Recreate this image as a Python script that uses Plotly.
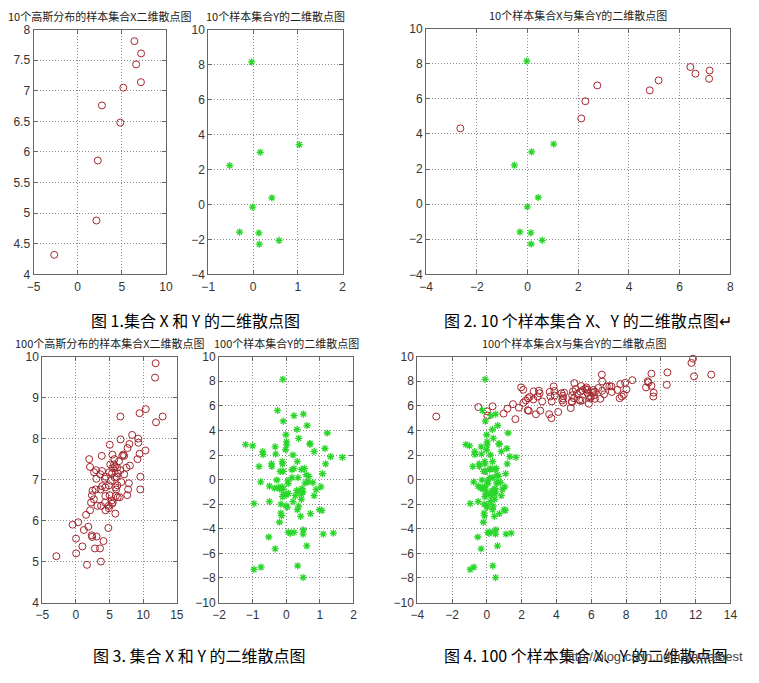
import plotly.graph_objects as go

# ---------- 10-sample data ----------
x10_a = [-2.65, 2.12, 2.28, 2.75, 4.82, 5.17, 6.42, 6.62, 7.18, 7.16]
x10_b = [4.32, 4.88, 5.86, 6.76, 6.48, 7.05, 7.81, 7.43, 7.61, 7.14]
y10_a = [-0.03, 0.16, 1.03, -0.52, 0.42, -0.01, -0.30, 0.13, 0.14, 0.58]
y10_b = [8.15, 2.98, 3.42, 2.22, 0.38, -0.15, -1.58, -1.63, -2.27, -2.06]

# ---------- 100-sample data ----------
x100_a = [-2.91, -0.49, 0.01, 0.03, 0.33, 0.96, 1.18, 1.50, 1.64, 1.84,
          1.97, 2.09, 2.10, 2.24, 2.35, 2.41, 2.37, 2.46, 2.69, 2.67,
          2.82, 2.92, 2.99, 3.03, 3.07, 3.18, 3.58, 3.61, 3.65, 3.71,
          3.73, 3.84, 3.88, 3.90, 4.10, 4.29, 4.37, 4.33, 4.39, 4.44,
          4.37, 4.82, 4.88, 4.90, 4.95, 5.01, 5.03, 5.10, 5.18, 5.31,
          5.37, 5.42, 5.48, 5.37, 5.65, 5.72, 5.78, 5.86, 5.86, 5.93,
          5.99, 6.06, 6.12, 6.21, 6.16, 6.21, 6.40, 6.52, 6.61, 6.63,
          6.63, 6.74, 6.89, 7.04, 7.16, 7.18, 7.50, 7.67, 7.63, 7.76,
          7.87, 7.95, 8.02, 8.36, 9.15, 9.25, 9.29, 9.46, 9.46, 9.57,
          9.59, 10.38, 10.34, 11.76, 11.85, 11.91, 12.90, 5.50, 5.80, 4.90]
x100_b = [5.13, 5.90, 5.56, 5.20, 5.96, 5.37, 5.77, 6.14, 4.92, 5.85,
          7.50, 7.31, 6.25, 6.44, 5.64, 5.60, 6.62, 6.73, 7.18, 6.52,
          5.32, 6.76, 7.23, 7.02, 5.61, 6.36, 5.32, 7.13, 6.76, 5.00,
          6.36, 7.58, 7.21, 6.84, 5.50, 7.02, 6.81, 6.44, 6.25, 7.07,
          6.60, 5.82, 6.36, 6.86, 7.18, 6.62, 7.85, 7.37, 6.97, 6.49,
          7.15, 7.61, 6.44, 6.41, 7.37, 7.50, 7.05, 6.17, 6.81, 6.60,
          6.76, 7.07, 7.29, 6.57, 6.86, 7.15, 7.45, 6.57, 8.54, 7.98,
          7.23, 6.94, 7.58, 7.61, 7.58, 7.13, 7.29, 7.77, 6.62, 6.76,
          6.91, 7.87, 7.34, 8.09, 7.50, 8.00, 7.90, 8.62, 7.63, 6.76,
          7.07, 8.72, 7.71, 9.49, 9.84, 8.40, 8.54, 7.28, 7.32, 6.30]
y100_a = [-0.10, -0.26, -0.09, 0.23, 0.51, 0.62, 0.32, 0.37, -0.01, 1.22,
          -1.21, -1.00, -0.70, -0.69, -0.33, -0.31, 0.01, 0.01, -0.02, 0.20,
          0.71, 0.70, 0.83, 1.15, 1.32, 1.67, 1.17, -0.81, -0.44, -0.43,
          -0.11, -0.12, 0.33, -0.18, -0.09, 0.17, 0.23, 0.54, 0.45, 1.08,
          0.17, 0.35, 0.67, 0.59, -0.76, -0.28, -0.23, -0.50, -0.12, -0.09,
          -0.20, 0.06, 0.31, 0.37, 0.47, 0.50, 0.56, 0.64, 0.89, 1.03,
          0.79, 0.06, -0.01, -0.11, -0.09, 0.27, 0.45, 0.83, 0.45, 0.20,
          -0.50, -0.96, -0.16, -0.01, 0.03, 0.37, 0.33, 0.99, 1.06, 0.72,
          -0.16, -0.14, 0.43, -0.20, 0.51, 0.06, 0.12, 0.23, 0.50, 1.10,
          1.40, -0.52, -0.33, 0.61, -0.96, -0.75, 0.34, 0.50, 0.05, -0.35]
y100_b = [8.16, 5.63, 4.75, 5.20, 5.33, 4.40, 4.08, 3.36, 3.65, 3.79,
          2.85, 2.75, 2.27, 2.05, 2.67, 2.08, 3.07, 2.83, 2.43, 2.00,
          2.93, 2.88, 2.29, 2.53, 1.87, 1.81, 1.28, 1.07, 1.28, 1.07,
          1.28, 1.47, 1.47, 0.67, 0.67, 0.80, 0.91, 0.91, 0.83, 0.48,
          0.16, 0.16, 0.27, 0.40, -0.19, -0.03, -0.64, -0.53, -0.59, -0.77,
          -0.75, -0.32, -0.88, -0.93, -0.72, -0.99, -0.27, -0.19, -0.80, -0.59,
          -0.24, -1.12, -1.25, -1.39, -1.20, -1.31, -1.20, -1.31, -1.60, -1.79,
          -1.79, -1.95, -2.00, -2.13, -2.24, -2.16, -2.45, -2.45, -2.51, -2.77,
          -2.72, -2.93, -2.99, -3.47, -4.08, -4.29, -4.37, -4.29, -4.43, -4.43,
          -4.35, -4.67, -5.63, -5.39, -7.31, -7.12, -7.01, -7.97, -0.10, -0.70]

titles = ["10个高斯分布的样本集合X二维散点图", "10个样本集合Y的二维散点图",
          "10个样本集合X与集合Y的二维散点图", "100个高斯分布的样本集合X二维散点图",
          "100个样本集合Y的二维散点图", "100个样本集合X与集合Y的二维散点图"]
captions = ["图 1.集合 X 和 Y 的二维散点图", "图 2. 10 个样本集合 X、Y 的二维散点图↵",
            "图 3. 集合 X 和 Y 的二维散点图", "图 4. 100 个样本集合 X、Y 的二维散点图"]

W, H = 759, 683
# axes boxes in pixels: (left, right, top, bottom)
boxes = [(27, 162, 23, 273), (205, 342, 23, 273), (427, 737, 22, 273),
         (36, 173, 357, 608), (216, 353, 357, 608), (418, 737, 357, 608)]
xranges = [(-5, 10), (-1, 2), (-4, 8), (-5, 15), (-2, 2), (-4, 14)]
yranges = [(4, 8), (-4, 10), (-4, 10), (4, 10), (-10, 10), (-10, 10)]
xdt = [5, 1, 2, 5, 1, 2]
ydt = [0.5, 2, 2, 1, 2, 2]

red = dict(symbol="circle-open", size=7, color="#a3262e", line=dict(width=1, color="#a3262e"))
green = dict(symbol="asterisk-open", size=6, color="#2bd62b", line=dict(width=1.3, color="#2bd62b"))

fig = go.Figure()
series = [
    [(x10_a, x10_b, red)],
    [(y10_a, y10_b, green)],
    [(x10_a, x10_b, red), (y10_a, y10_b, green)],
    [(x100_a, x100_b, red)],
    [(y100_a, y100_b, green)],
    [(x100_a, x100_b, red), (y100_a, y100_b, green)],
]

layout = {}
annotations = []
for i, (box, xr, yr) in enumerate(zip(boxes, xranges, yranges)):
    n = "" if i == 0 else str(i + 1)
    l, r, t, b = box
    axstyle = dict(showgrid=True, gridcolor="#8a8a8a", griddash="1px,2px", gridwidth=1,
                   showline=True, linecolor="#666", linewidth=1, mirror="ticks",
                   ticks="inside", ticklen=4, tickcolor="#666", zeroline=False,
                   tickfont=dict(family="Liberation Sans, Arial", size=12, color="#333"))
    layout["xaxis" + n] = dict(domain=[l / W, r / W], range=list(xr), dtick=xdt[i],
                               anchor="y" + n, ticklabelstandoff=1, **axstyle)
    layout["yaxis" + n] = dict(domain=[1 - b / H, 1 - t / H], range=list(yr), dtick=ydt[i],
                               anchor="x" + n, **axstyle)
    for xs, ys, mk in series[i]:
        fig.add_trace(go.Scatter(x=xs, y=ys, mode="markers", marker=mk,
                                 xaxis="x" + n, yaxis="y" + n, showlegend=False,
                                 cliponaxis=False))
    annotations.append(dict(text=titles[i], x=(l + r) / 2 / W, y=1 - (t - 4) / H,
                            xref="paper", yref="paper", xanchor="center", yanchor="bottom",
                            showarrow=False,
                            font=dict(family="Noto Sans CJK SC", size=11, color="#222")))

cap_pos = [(192, 320), (592, 320), (196, 662), (590, 662)]
for c, (cx, cy) in zip(captions, cap_pos):
    annotations.append(dict(text=c, x=cx / W, y=1 - cy / H, xref="paper", yref="paper",
                            xanchor="center", yanchor="middle", showarrow=False,
                            font=dict(family="Noto Sans CJK SC", size=16, color="#000")))
annotations.append(dict(text="http://blog.csdn.net/uyawaibest", x=752 / W, y=1 - 663 / H,
                        xref="paper", yref="paper", xanchor="right", yanchor="middle",
                        showarrow=False,
                        font=dict(family="Liberation Sans, Arial", size=13, color="#444")))

fig.update_layout(width=W, height=H, margin=dict(l=0, r=0, t=0, b=0),
                  paper_bgcolor="white", plot_bgcolor="white",
                  annotations=annotations, **layout)
fig.write_html("out.html")
